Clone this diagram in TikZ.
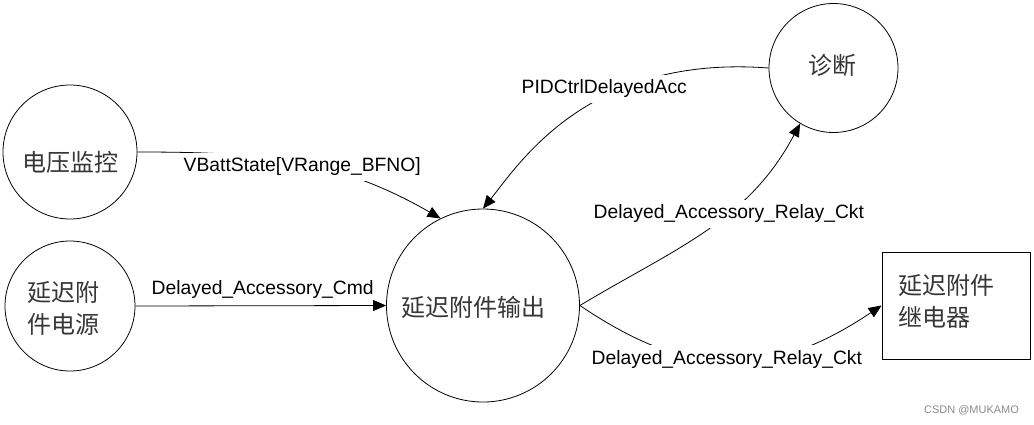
\documentclass[tikz,border=0pt]{standalone}
\usepackage{fontspec}
\setmainfont{Liberation Sans}
\newfontfamily\cjk{Noto Sans CJK SC}
\usetikzlibrary{arrows.meta}
\definecolor{cjkgray}{HTML}{363636}
\begin{document}
\begin{tikzpicture}[x=1pt,y=-1pt,
  ent/.style={circle, draw, line width=0.8pt, inner sep=0pt},
  boxent/.style={rectangle, draw, line width=0.8pt, inner sep=0pt},
  ctext/.style={font=\cjk\fontsize{24pt}{32pt}\selectfont, text=cjkgray, align=center, inner sep=0pt},
  lab/.style={font=\fontsize{19.3pt}{22pt}\selectfont, inner xsep=3pt, inner ysep=5pt, anchor=base west},
  labw/.style={lab, fill=white},
  conn/.style={line width=0.8pt},
  arr/.style={conn, -{Triangle[length=13pt,width=11pt]}}]
\fill[white] (0,0) rectangle (1034,424);
\useasboundingbox (0,0) rectangle (1034,424);

% entities
\node[ent, minimum size=134pt, label={[ctext, xshift=1pt, yshift=-10pt]center:电压监控}] (vm) at (70,152) {};
\node[ent, minimum size=130pt, label={[ctext, xshift=-6.5pt, yshift=-2pt]center:{延迟附\\件电源}}] (src) at (70,306) {};
\node[ent, minimum size=193pt, label={[ctext, xshift=-9.5pt, yshift=-1.5pt]center:延迟附件输出}] (out) at (483,305.5) {};
\node[ent, minimum size=129pt, label={[ctext, xshift=-1.5pt, yshift=3pt]center:诊断}] (dg) at (833.5,68) {};
\node[boxent, minimum width=148pt, minimum height=107pt, label={[ctext, align=left, xshift=-9.5pt, yshift=4.5pt]center:{延迟附件\\继电器}}] (rel) at (956,305.5) {};

% connectors
\draw[arr] (vm.east) to[out=0,in=150] (out.116);
\draw[arr] (src.east) -- (out.west);
\draw[arr] (dg.west) .. controls (589,54.4) and (520.2,162.2) .. (out.90);
\draw[arr] (out.east) to[out=31,in=242] (dg.239);
\draw[arr] (out.east) .. controls (690,380) and (770,380) .. (rel.west);

% labels
\node[labw] (lvb) at (180.5,171.5) {VBattState[VRange\_BFNO]};
\node[lab] (lcmd) at (148.5,294.5) {Delayed\_Accessory\_Cmd};
\node[labw] (lpid) at (518.5,93.5) {PIDCtrlDelayedAcc};
\node[labw] (lup) at (590.5,218.5) {Delayed\_Accessory\_Relay\_Ckt};
\node[labw] (llo) at (588.5,364) {Delayed\_Accessory\_Relay\_Ckt};

% watermark
\node[font=\fontsize{11pt}{13pt}\selectfont, text=black!45, inner sep=0pt] (wm) at (971.5,410) {CSDN @MUKAMO};
\end{tikzpicture}
\end{document}
